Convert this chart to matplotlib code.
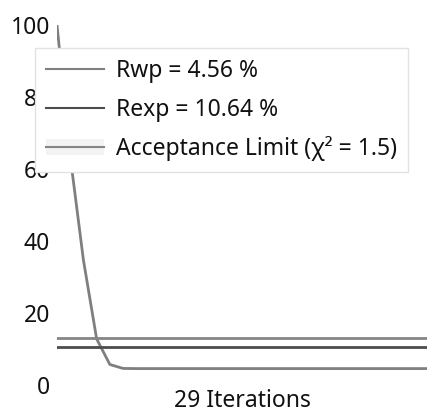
import matplotlib
matplotlib.use("Agg")
import matplotlib.pyplot as plt
from matplotlib.lines import Line2D
from matplotlib.patches import Patch

plt.rcParams['font.family'] = ['Noto Sans', 'DejaVu Sans']

iterations = list(range(1, 30))
rwp_values = [100, 63.5, 34.7, 12.8, 5.7, 4.6] + [4.56] * 23
rexp_value = 10.64
chi2_limit = 1.5
acceptance_value = rexp_value * chi2_limit ** 0.5
y_ticks = [0, 20, 40, 60, 80, 100]

W, H = 439, 416
fig = plt.figure(figsize=(W / 100, H / 100), dpi=100)
ax = fig.add_axes([57 / W, (H - 385) / H, (427 - 57) / W, (385 - 25) / H])

c_rwp = '#7f7f7f'
c_rexp = '#4d4d4d'
c_acc = '#858585'
fs = 16.5

ax.plot(iterations, rwp_values, color=c_rwp, lw=2.0, solid_joinstyle='round')
ax.axhline(rexp_value, color=c_rexp, lw=2.0)
ax.axhline(acceptance_value, color=c_acc, lw=2.0)

ax.set_xlim(iterations[0], iterations[-1])
ax.set_ylim(0, 100)
ax.set_yticks(y_ticks)
ax.set_xticks([])
ax.tick_params(axis='y', length=0, pad=5, labelsize=fs, labelcolor='#111111')
for s in ax.spines.values():
    s.set_visible(False)

ax.set_xlabel(f"{len(iterations)} Iterations", fontsize=fs, color='#111111', labelpad=3)

handles = [
    Line2D([], [], color=c_rwp, lw=1.5),
    Line2D([], [], color=c_rexp, lw=1.5),
    (Patch(facecolor='#f3f3f3', edgecolor='none'), Line2D([], [], color=c_acc, lw=1.5)),
]
labels = [f"Rwp = {rwp_values[-1]:.2f} %",
          f"Rexp = {rexp_value:.2f} %",
          f"Acceptance Limit (\u03c7\u00b2 = {chi2_limit})"]
leg = ax.legend(handles, labels, loc='upper left',
                bbox_to_anchor=(35 / W, 1 - 48 / H), bbox_transform=fig.transFigure,
                borderaxespad=0, fontsize=fs, handlelength=2.5, handletextpad=0.52,
                labelspacing=0.62, borderpad=0.5, fancybox=False, framealpha=1,
                edgecolor='#e2e2e2')
leg.get_frame().set_linewidth(1.0)
for t in leg.get_texts():
    t.set_color('#111111')

fig.savefig('out.png', dpi=100)
